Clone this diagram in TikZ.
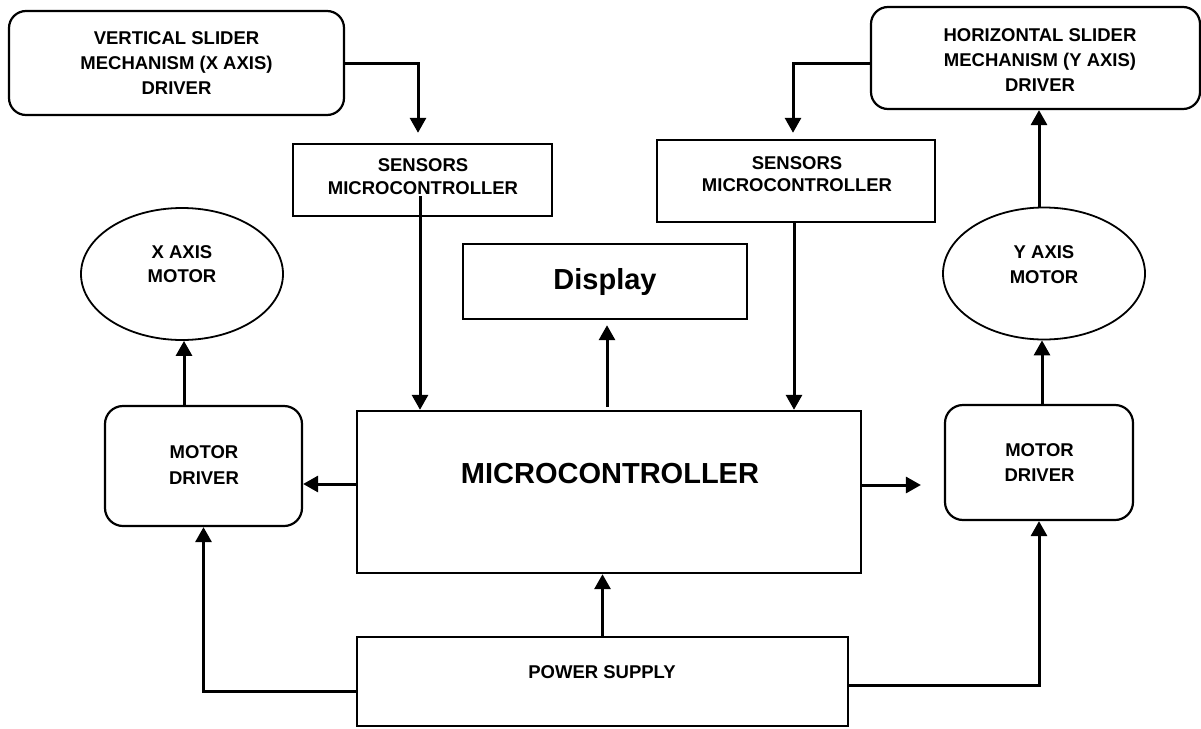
\documentclass[tikz,border=0pt]{standalone}
\usepackage{fontspec}
\setmainfont{Liberation Sans}
\usetikzlibrary{shapes.geometric,arrows.meta,calc}
\begin{document}
\begin{tikzpicture}[x=1pt,y=-1pt,
 rbox/.style={draw,line width=2.2pt,rounded corners=17pt,inner sep=0pt},
 sbox/.style={draw,line width=2.4pt,inner sep=0pt},
 oval/.style={draw,ellipse,line width=1.8pt,inner sep=0pt,minimum width=202pt,minimum height=132pt},
 lbl/.style={align=center,inner sep=0pt,font=\bfseries\fontsize{18.5}{25}\selectfont},
 big/.style={inner sep=0pt,font=\bfseries\fontsize{29}{34}\selectfont},
 arr/.style={line width=3pt,-{Triangle[length=15pt,width=16pt]}}]
\useasboundingbox (0,0) rectangle (1201,728);

% boxes
\node[rbox,minimum width=335pt,minimum height=104pt] (vsm) at (176.5,63) {};
\node[lbl] (vsmt) at (176.5,63) {VERTICAL SLIDER\\MECHANISM (X AXIS)\\DRIVER};
\node[rbox,minimum width=329pt,minimum height=102pt] (hsm) at (1035.5,58) {};
\node[lbl] (hsmt) at (1040,60) {HORIZONTAL SLIDER\\MECHANISM (Y AXIS)\\DRIVER};
\node[sbox,minimum width=259pt,minimum height=72pt] (s1) at (422.5,180) {};
\node[lbl,font=\bfseries\fontsize{18.5}{23}\selectfont] (s1t) at (423,176.5) {SENSORS\\MICROCONTROLLER};
\node[sbox,minimum width=278pt,minimum height=82pt] (s2) at (796,181) {};
\node[lbl,font=\bfseries\fontsize{18.5}{22}\selectfont] (s2t) at (797,174) {SENSORS\\MICROCONTROLLER};
\node[sbox,minimum width=284pt,minimum height=75pt] (disp) at (605,281.5) {};
\node[big] (dispt) at (605,282) {Display};
\node[oval] (xm) at (182,274) {};
\node[lbl,font=\bfseries\fontsize{18.5}{24}\selectfont] (xmt) at (182,264) {X AXIS\\MOTOR};
\node[oval] (ym) at (1044,273.5) {};
\node[lbl] (ymt) at (1044,264.5) {Y AXIS\\MOTOR};
\node[sbox,minimum width=504pt,minimum height=162pt] (mc) at (609,492) {};
\node[big] (mct) at (610,474) {MICROCONTROLLER};
\node[rbox,rounded corners=18pt,minimum width=197pt,minimum height=120pt] (lmd) at (203.5,466) {};
\node[lbl,font=\bfseries\fontsize{18.5}{26}\selectfont] (lmdt) at (204,465) {MOTOR\\DRIVER};
\node[rbox,rounded corners=18pt,minimum width=188pt,minimum height=115pt] (rmd) at (1039,462.5) {};
\node[lbl] (rmdt) at (1039.5,462.5) {MOTOR\\DRIVER};
\node[sbox,minimum width=491pt,minimum height=89pt] (ps) at (602.5,681.5) {};
\node[lbl] (pst) at (602,672) {POWER SUPPLY};

% connectors
\draw[arr] (vsm.east) -| ($(s1.north)+(-4.5,-10)$);
\draw[arr] ($(s1.south)+(-2.5,-21)$) -- ($(s1.south |- mc.north)+(-2.5,0)$);
\draw[arr] ($(hsm.west)+(0,5)$) -| ($(s2.north)+(-3,-6)$);
\draw[arr] ($(s2.south)+(-2,0)$) -- ($(s2.south |- mc.north)+(-2,0)$);
\draw[arr] ($(mc.north)+(-2,-3)$) -- ($(mc.north |- disp.south)+(-2,5)$);
\draw[arr] ($(mc.west)+(0,-8)$) -- ($(lmd.east |- mc.west)+(0,-8)$);
\draw[arr] ($(mc.east)+(0,-7)$) -- ($(rmd.west |- mc.east)+(-23,-7)$);
\draw[arr] ($(lmd.north)+(-19.5,0)$) -- ($(xm.south)+(2,0)$);
\draw[arr] ($(rmd.north)+(3,0)$) -- ($(ym.south)+(-2,0)$);
\draw[arr] ($(ym.north)+(-5,0)$) -- ($(hsm.south)+(3.5,0)$);
\draw[arr] (ps.north) -- (ps.north |- mc.south);
\draw[arr] ($(ps.west)+(0,9.5)$) -| (lmd.south);
\draw[arr] ($(ps.east)+(0,3.5)$) -| (rmd.south);
\end{tikzpicture}
\end{document}
